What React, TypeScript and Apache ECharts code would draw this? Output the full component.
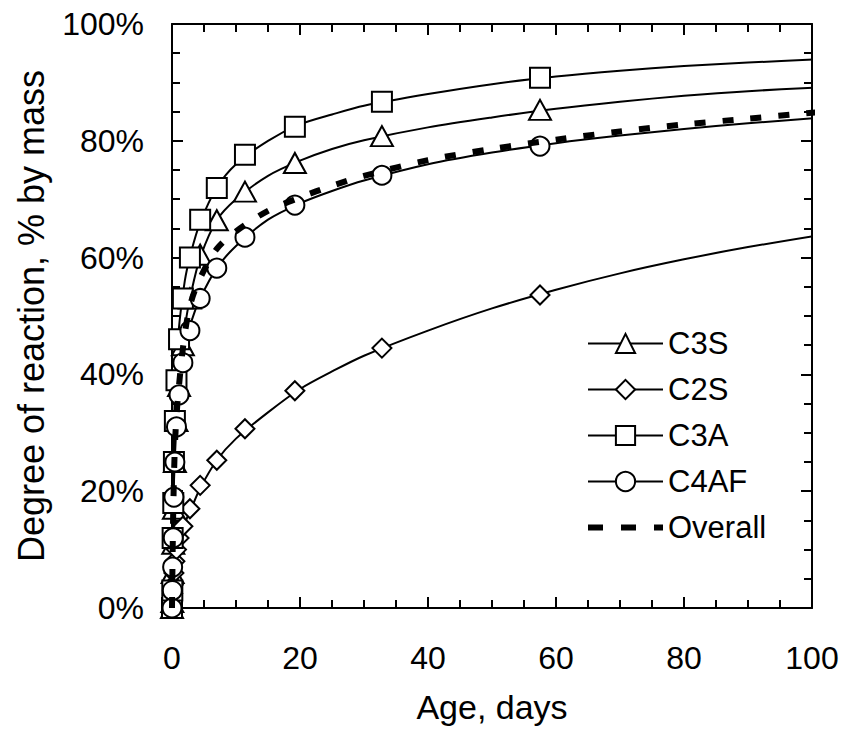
import React, { useEffect, useRef } from "react";
import * as echarts from "echarts";

// Ages (days) at which measured markers are plotted
const ages = [0, 0.05, 0.1, 0.2, 0.3, 0.45, 0.7, 1.1, 1.7, 2.8, 4.4, 7, 11.4, 19.2, 32.8, 57.5];
// Measured degree of reaction (% by mass)
const c3s = [0, 1, 6, 11, 17, 25, 32, 38, 45, 53, 60.5, 66.4, 71.3, 76.2, 80.8, 85.3];
const c2s = [0, 1, 2.5, 4, 6, 8, 10, 12, 14, 17, 21, 25.3, 30.7, 37.2, 44.5, 53.6];
const c3a = [0, 3, 12, 18, 25, 32, 39, 46, 53, 60, 66.5, 71.9, 77.6, 82.4, 86.7, 90.8];
const c4af = [0, 3, 7, 12, 19, 25, 31, 36.5, 42, 47.5, 53, 58.2, 63.5, 69, 74.1, 79.1];

// Fitted curves
const fitAges = [0, 0.2, 0.5, 1, 2, 3, 4.4, 7, 10, 15, 20, 25, 30, 40, 50, 60, 70, 80, 90, 102];
const c3sFit = [0, 18, 30, 38, 48, 54, 60, 66.4, 70, 74, 76.6, 78.6, 80.1, 82.3, 84, 85.5, 86.7, 87.7, 88.5, 89.2];
const c2sFit = [0, 5, 8, 11, 14.5, 17, 20.5, 25.3, 29, 33.5, 37.5, 40.5, 43.2, 47.5, 51.3, 54.5, 57.3, 59.7, 61.8, 64];
const c3aFit = [0, 25, 38, 47, 56, 61, 66, 72, 76, 80, 82.8, 84.5, 86, 88, 89.7, 91, 92, 92.8, 93.4, 94];
const c4afFit = [0, 17, 27, 36, 44.5, 49, 53, 58.2, 62, 66.5, 69.3, 71.4, 73.2, 76, 78, 79.6, 80.9, 82, 83, 84];
const overallFit = [0, 17, 29, 37, 47, 52.5, 56.5, 61.5, 64.5, 68, 70.3, 72.3, 74, 76.7, 78.6, 80.2, 81.6, 82.8, 83.8, 85];

const xTicks = [0, 20, 40, 60, 80, 100];
const yTicks = [0, 20, 40, 60, 80, 100];

const FONT = "'Liberation Sans', Arial, Helvetica, sans-serif";

export default function App() {
  const ref = useRef<HTMLDivElement>(null);

  useEffect(() => {
    if (!ref.current) return;
    const chart = echarts.init(ref.current, null, { renderer: "svg" });

    const pts = (xs: number[], ys: number[]) => xs.map((a, i) => [a, ys[i]]);
    const hollow = { color: "#fff", borderColor: "#000", borderWidth: 2, opacity: 1 };

    const curve = (name: string, symbol: string, ys: number[]) => ({
      name,
      type: "line",
      data: pts(fitAges, ys),
      smooth: 0.3,
      symbol,
      showSymbol: false,
      clip: false,
      lineStyle: { color: "#000", width: 2 },
      itemStyle: hollow,
      emphasis: { disabled: true },
      z: 2,
    });

    const marks = (name: string, symbol: string, size: number[], ys: number[]) => ({
      name: name + " data",
      type: "scatter",
      data: pts(ages, ys),
      symbol,
      symbolSize: size,
      clip: false,
      itemStyle: hollow,
      emphasis: { disabled: true },
      z: 3,
    });

    const tickCommon = (pos: string) => ({
      axisLine: { onZero: false, lineStyle: { color: "#000", width: 2 } },
      axisTick: { inside: true, length: 11, lineStyle: { color: "#000", width: 2 } },
      minorTick: { show: true, splitNumber: 4, length: 8, lineStyle: { color: "#000", width: 2 } },
      splitLine: { show: false },
      minorSplitLine: { show: false },
      position: pos,
    });

    chart.setOption({
      animation: false,
      backgroundColor: "#fff",
      textStyle: { fontFamily: FONT },
      grid: { left: 172, right: 34, top: 24, bottom: 123, containLabel: false },
      legend: {
        data: [
          "C3S",
          "C2S",
          "C3A",
          "C4AF",
          { name: "Overall", lineStyle: { width: 6, type: [15, 18], color: "#000" } },
        ],
        orient: "vertical",
        left: 580,
        top: 323,
        itemWidth: 75,
        itemHeight: 24,
        itemGap: 15,
        selectedMode: false,
        textStyle: { fontSize: 31, color: "#000", fontFamily: FONT, lineHeight: 31 },
      },
      xAxis: [
        {
          type: "value",
          min: 0,
          max: 100,
          interval: 20,
          ...tickCommon("bottom"),
          axisLabel: {
            fontSize: 32,
            color: "#000",
            fontFamily: FONT,
            margin: 34,
            formatter: (v: number) => (xTicks.includes(v) ? String(v) : ""),
          },
          name: "Age, days",
          nameLocation: "middle",
          nameGap: 82,
          nameTextStyle: { fontSize: 34, color: "#000", fontFamily: FONT },
        },
        {
          type: "value",
          min: 0,
          max: 100,
          interval: 20,
          ...tickCommon("top"),
          axisLabel: { show: false },
        },
      ],
      yAxis: [
        {
          type: "value",
          min: 0,
          max: 100,
          interval: 20,
          ...tickCommon("left"),
          axisLabel: {
            fontSize: 32,
            color: "#000",
            fontFamily: FONT,
            margin: 28,
            formatter: (v: number) => (yTicks.includes(v) ? v + "%" : ""),
          },
          name: "Degree of reaction, % by mass",
          nameLocation: "middle",
          nameRotate: 90,
          nameGap: 123,
          nameTextStyle: { fontSize: 36, color: "#000", fontFamily: FONT },
        },
        {
          type: "value",
          min: 0,
          max: 100,
          interval: 20,
          ...tickCommon("right"),
          axisLabel: { show: false },
        },
      ],
      series: [
        curve("C3S", "triangle", c3sFit),
        curve("C2S", "diamond", c2sFit),
        curve("C3A", "rect", c3aFit),
        curve("C4AF", "circle", c4afFit),
        marks("C3S", "triangle", [22, 20], c3s),
        marks("C2S", "diamond", [19, 19], c2s),
        marks("C3A", "rect", [20, 20], c3a),
        marks("C4AF", "circle", [19, 19], c4af),
        {
          name: "Overall",
          type: "line",
          data: pts(fitAges, overallFit),
          smooth: 0.3,
          symbol: "none",
          clip: false,
          z: 4,
          lineStyle: { color: "#000", width: 6, type: [11, 17], cap: "butt" },
          itemStyle: { color: "rgba(0,0,0,0)", borderWidth: 0 },
          emphasis: { disabled: true },
        },
      ],
    });

    return () => chart.dispose();
  }, []);

  return (
    <div
      ref={ref}
      style={{ position: "fixed", left: 0, top: 0, width: 846, height: 731, background: "#fff" }}
    />
  );
}
